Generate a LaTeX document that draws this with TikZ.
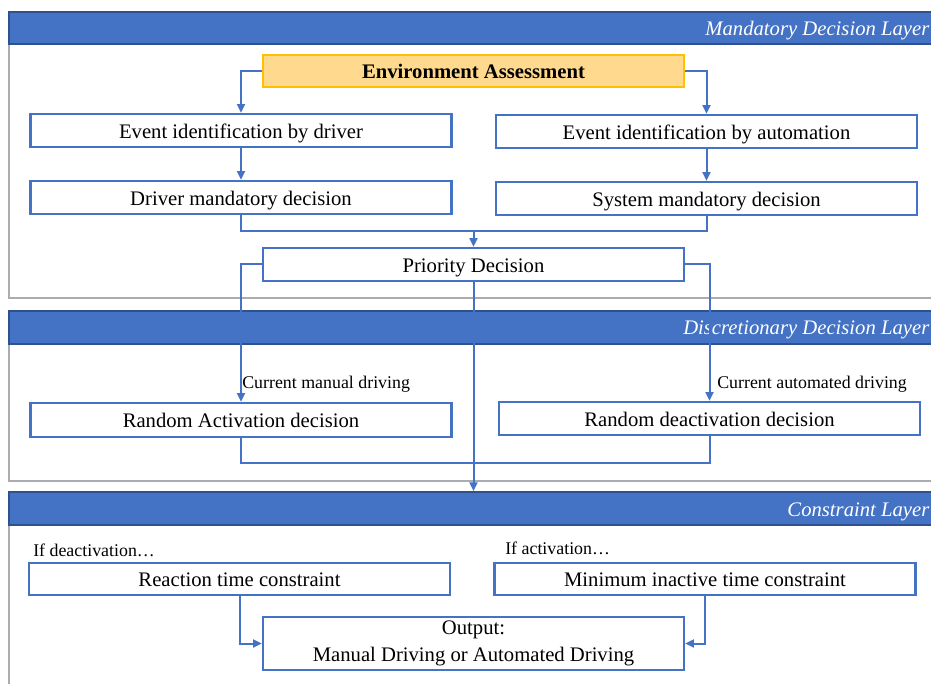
\documentclass[tikz,border=0pt]{standalone}
\usepackage{fontspec}
\setmainfont{Liberation Serif}
\usepackage{tikz}
\usetikzlibrary{arrows.meta, positioning, calc}
\definecolor{lyblue}{RGB}{68,114,196}
\definecolor{lydark}{RGB}{47,82,143}
\definecolor{lygray}{RGB}{170,172,178}
\definecolor{envfill}{RGB}{255,217,142}
\definecolor{envgold}{RGB}{255,192,0}

\begin{document}
\begin{tikzpicture}[x=0.75pt,y=-0.75pt,
  box/.style={draw=lyblue,line width=1.9pt,fill=white,minimum width=315.75pt,minimum height=24.75pt,inner sep=0pt,text height=15pt,text depth=3.2pt,font=\fontsize{15.5}{18}\selectfont},
  banner/.style={fill=lyblue,draw=lydark,line width=0.8pt},
  layer/.style={draw=lygray,line width=1.5pt},
  bantext/.style={anchor=east,text=white,font=\fontsize{15.5}{18}\selectfont\itshape},
  note/.style={anchor=west,inner sep=0pt,font=\fontsize{13.4}{16}\selectfont},
  conn/.style={draw=lyblue,line width=1.5pt},
  arr/.style={conn,-{Triangle[width=6pt,length=6.5pt]}}]
\useasboundingbox (0,0) rectangle (931,684);
\clip (0,0) rectangle (931,684);
\draw[layer] (960,44) -| (9,298) -- (960,298);
\draw[layer] (960,344) -| (9,481) -- (960,481);
\draw[layer] (960,525) -| (9,700);
\draw[banner] (9,12) rectangle (960,44);
\draw[banner] (9,311) rectangle (960,344);
\draw[banner] (9,492) rectangle (960,525);
\node[bantext] (ban1) at (934,31) {Mandatory Decision Layer};
\node[bantext] (ban2) at (934,330) {Discretionary Decision Layer};
\node[bantext] (ban3) at (934,511.5) {Constraint Layer};

\node[box,fill=envfill,draw=envgold,minimum height=24pt,font=\fontsize{15.5}{18}\selectfont\bfseries] (env) at (473.5,71) {Environment Assessment};
\node[box] (evd) at (241,130.5) {Event identification by driver};
\node[box] (eva) at (706.5,131.5) {Event identification by automation};
\node[box] (dmd) at (241,197.5) {Driver mandatory decision};
\node[box] (smd) at (706.5,198.5) {System mandatory decision};
\node[box] (prio) at (473.5,264.5) {Priority Decision};
\node[box,minimum height=25.5pt] (rad) at (241,420) {Random Activation decision};
\node[box] (rdd) at (709.5,418.5) {Random deactivation decision};
\node[box,minimum height=24pt] (rtc) at (239.5,579) {Reaction time constraint};
\node[box,minimum height=24pt] (mitc) at (705,579) {Minimum inactive time constraint};
\node[box,minimum height=39.75pt,align=center,text height=,text depth=,font=\fontsize{15.5}{20}\selectfont] (out) at (473.5,643.5) {Output:\\Manual Driving or Automated Driving};

\node[note] (lman) at (242,384.5) {Current manual driving};
\node[note] (laut) at (717,384.5) {Current automated driving};
\node[note] (ldeac) at (33,550) {If deactivation…};
\node[note] (lact) at (505,548) {If activation…};

\coordinate (mand) at (473.5,231);
\coordinate (disc) at (473.5,463);
\coordinate (cons) at (473.5,491);

\draw[arr] (env.west) -| (evd.north);
\draw[arr] (env.east) -| (eva.north);
\draw[arr] (evd) -- (dmd);
\draw[arr] (eva) -- (smd);
\draw[conn] (dmd.south) |- (mand) -| (smd.south);
\draw[arr] (mand) -- (prio.north);
\draw[arr] (prio.west) -| (rad.north);
\draw[arr] (prio.east) -| (rdd.north);
\draw[arr] (prio.south) -- (cons);
\draw[conn] (rad.south) |- (disc) -| (rdd.south);
\draw[arr] (rtc.south) |- (out.west);
\draw[arr] (mitc.south) |- (out.east);
\end{tikzpicture}
\end{document}
